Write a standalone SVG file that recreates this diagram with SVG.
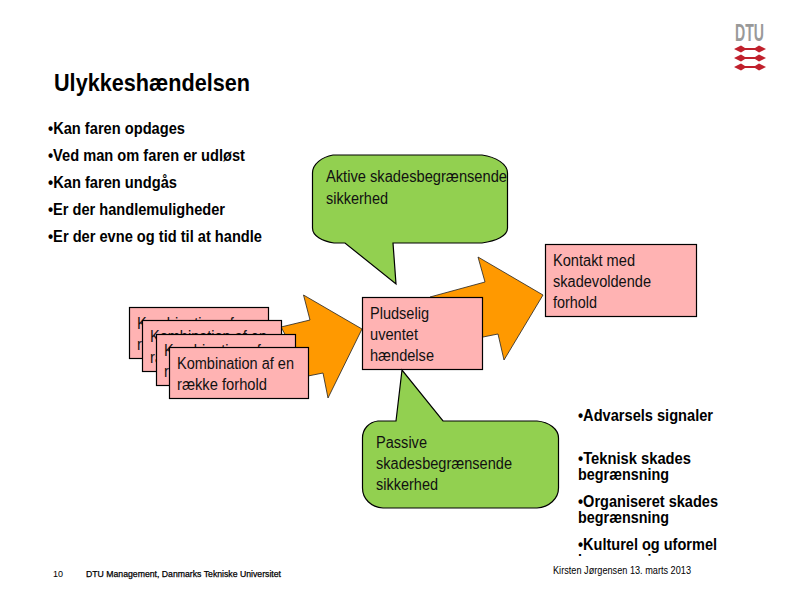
<svg xmlns="http://www.w3.org/2000/svg" width="800" height="600" viewBox="0 0 800 600">
<style>
text{font-family:"Liberation Sans",Arial,sans-serif;fill:#000}
.b{font-weight:bold;font-size:16px}
.n{font-size:16px;fill:#111}
.box{fill:#ffb3b3;stroke:#000;stroke-width:1.2}
.arr{fill:#ff9900;stroke:#222;stroke-width:.8}
.call{fill:#92d050;stroke:#000;stroke-width:1.2}
.red{fill:#c0202c}
</style>
<defs>
<clipPath id="clip"><rect x="570" y="400" width="170" height="156"/></clipPath>
</defs>
<rect width="800" height="600" fill="#fff"/>
<g id="logo">
<text x="735" y="41" font-size="23" font-weight="bold" textLength="29" lengthAdjust="spacingAndGlyphs" style="fill:#999">DTU</text>
<path class="red" d="M734 49l7-3.500 4 2.500h10l4-2.500 7 3.500-7 3.500-4-2.500h-10l-4 2.500zM734 58l7-3.500 4 2.500h10l4-2.500 7 3.500-7 3.500-4-2.500h-10l-4 2.500zM734 67l7-3.500 4 2.500h10l4-2.500 7 3.500-7 3.500-4-2.500h-10l-4 2.500z"/>
</g>
<g id="title"><text x="54" y="91" font-size="24" font-weight="bold" textLength="196" lengthAdjust="spacingAndGlyphs">Ulykkeshændelsen</text></g>
<g id="questions">
<text class="b" x="48" y="134" textLength="137" lengthAdjust="spacingAndGlyphs">•Kan faren opdages</text>
<text class="b" x="48" y="161" textLength="197" lengthAdjust="spacingAndGlyphs">•Ved man om faren er udløst</text>
<text class="b" x="48" y="188" textLength="129" lengthAdjust="spacingAndGlyphs">•Kan faren undgås</text>
<text class="b" x="48" y="215" textLength="177" lengthAdjust="spacingAndGlyphs">•Er der handlemuligheder</text>
<text class="b" x="48" y="242" textLength="214" lengthAdjust="spacingAndGlyphs">•Er der evne og tid til at handle</text>
</g>
<g id="connectors">
<path class="arr" d="M281 327L310 320L303.500 295L362 329L328 398L323 373L308 376Z"/>
<path class="arr" d="M430 297L485 282L478 257L543 295L504 360L498 334L483 337Z"/>
</g>
<g id="active-callout">
<path class="call" d="M333 155H482C496 157 507.500 164 507.500 173V228C507.500 236 496 241 482 243H393L396 284L345 243H334C322 241 312.500 236 312.500 228V173C312.500 164 322 157 333 155Z"/>
<text class="n" x="326" y="182" textLength="181" lengthAdjust="spacingAndGlyphs">Aktive skadesbegrænsende</text>
<text class="n" x="326" y="204" textLength="62" lengthAdjust="spacingAndGlyphs">sikkerhed</text>
</g>
<g id="stack-1"><rect class="box" x="129.500" y="307.500" width="139" height="51"/><text class="n" x="137" y="329" textLength="117" lengthAdjust="spacingAndGlyphs">Kombination af en</text><text class="n" x="137" y="350" textLength="90" lengthAdjust="spacingAndGlyphs">række forhold</text></g>
<g id="stack-2"><rect class="box" x="142.500" y="320.500" width="139" height="51"/><text class="n" x="150" y="342" textLength="117" lengthAdjust="spacingAndGlyphs">Kombination af en</text><text class="n" x="150" y="363" textLength="90" lengthAdjust="spacingAndGlyphs">række forhold</text></g>
<g id="stack-3"><rect class="box" x="156.500" y="334.500" width="139" height="51"/><text class="n" x="164" y="356" textLength="117" lengthAdjust="spacingAndGlyphs">Kombination af en</text><text class="n" x="164" y="377" textLength="90" lengthAdjust="spacingAndGlyphs">række forhold</text></g>
<g id="stack-4"><rect class="box" x="169.500" y="347.500" width="139" height="51"/><text class="n" x="177" y="369" textLength="117" lengthAdjust="spacingAndGlyphs">Kombination af en</text><text class="n" x="177" y="390" textLength="90" lengthAdjust="spacingAndGlyphs">række forhold</text></g>
<g id="event"><rect class="box" x="362.500" y="297.500" width="120" height="72"/><text class="n" x="370" y="319" textLength="59" lengthAdjust="spacingAndGlyphs">Pludselig</text><text class="n" x="370" y="340" textLength="48" lengthAdjust="spacingAndGlyphs">uventet</text><text class="n" x="370" y="361" textLength="64" lengthAdjust="spacingAndGlyphs">hændelse</text></g>
<g id="contact"><rect class="box" x="545.500" y="244.500" width="151" height="72"/><text class="n" x="553" y="266" textLength="82" lengthAdjust="spacingAndGlyphs">Kontakt med</text><text class="n" x="553" y="287" textLength="98" lengthAdjust="spacingAndGlyphs">skadevoldende</text><text class="n" x="553" y="308" textLength="44" lengthAdjust="spacingAndGlyphs">forhold</text></g>
<g id="passive-callout">
<path class="call" d="M443 421H537C549 422 558.500 429 558.500 438V488C558.500 499 549 507 537 508H383C371 507 362.500 499 362.500 488V438C362.500 429 369 422 378 421H396L402 370Z"/>
<text class="n" x="376" y="448" textLength="51" lengthAdjust="spacingAndGlyphs">Passive</text>
<text class="n" x="376" y="469" textLength="136" lengthAdjust="spacingAndGlyphs">skadesbegrænsende</text>
<text class="n" x="376" y="490" textLength="62" lengthAdjust="spacingAndGlyphs">sikkerhed</text>
</g>
<g id="measures" clip-path="url(#clip)">
<text class="b" x="578" y="421" textLength="135" lengthAdjust="spacingAndGlyphs">•Advarsels signaler</text>
<text class="b" x="578" y="464" textLength="113" lengthAdjust="spacingAndGlyphs">•Teknisk skades</text>
<text class="b" x="578" y="480" textLength="91" lengthAdjust="spacingAndGlyphs">begrænsning</text>
<text class="b" x="578" y="507" textLength="140" lengthAdjust="spacingAndGlyphs">•Organiseret skades</text>
<text class="b" x="578" y="523" textLength="91" lengthAdjust="spacingAndGlyphs">begrænsning</text>
<text class="b" x="578" y="550" textLength="139" lengthAdjust="spacingAndGlyphs">•Kulturel og uformel</text>
<text class="b" x="578" y="566" textLength="91" lengthAdjust="spacingAndGlyphs">begrænsning</text>
</g>
<g id="footer">
<text x="53" y="577" font-size="9">10</text>
<text x="86" y="577" font-size="9" textLength="195" lengthAdjust="spacingAndGlyphs" stroke="#000" stroke-width=".25">DTU Management, Danmarks Tekniske Universitet</text>
<text x="553" y="574" font-size="10.500" textLength="138" lengthAdjust="spacingAndGlyphs">Kirsten Jørgensen 13. marts 2013</text>
</g>
</svg>
